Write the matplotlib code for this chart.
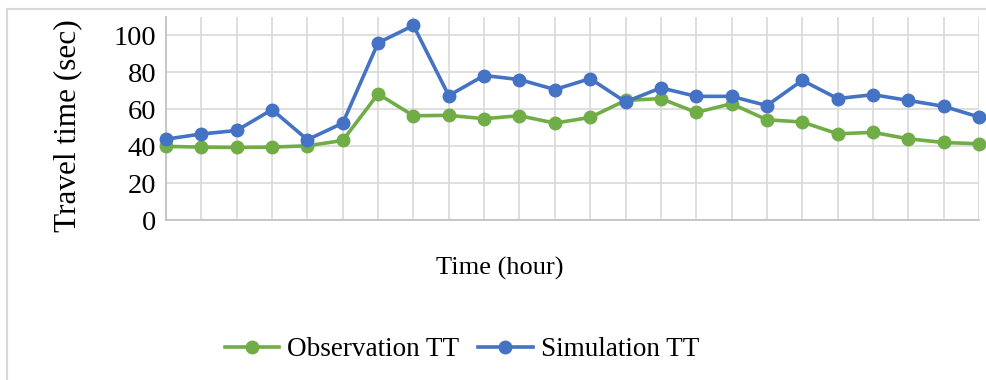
import numpy as np
import matplotlib.pyplot as plt
from matplotlib.lines import Line2D

plt.rcParams['font.family'] = ['Liberation Serif', 'DejaVu Serif']

# hourly travel times
hours = np.arange(1, 25)
observation_tt = [39.9, 39.5, 39.3, 39.5, 40.2, 43.1, 68.3, 56.5, 56.7, 54.9,
                  56.5, 52.5, 55.6, 64.8, 65.8, 58.3, 63.0, 54.3, 53.1, 46.7,
                  47.5, 44.0, 42.0, 41.3]
simulation_tt = [43.8, 46.6, 48.5, 59.8, 43.5, 52.5, 96.0, 105.4, 67.4, 78.3,
                 76.1, 70.7, 76.6, 64.0, 71.6, 67.0, 67.0, 62.0, 75.7, 65.8,
                 67.9, 64.8, 61.6, 55.8]
y_ticks = [0, 20, 40, 60, 80, 100]

green = '#70AD47'
blue = '#4472C4'
grid_c = '#D9D9D9'

fig = plt.figure(figsize=(9.86, 3.80), dpi=100)
ax = fig.add_axes([166 / 986, 1 - 220 / 380, (979 - 166) / 986, (220 - 17) / 380])

ax.plot(hours, observation_tt, color=green, lw=2.6, marker='o', ms=9,
        label='Observation TT', zorder=3, clip_on=False)
ax.plot(hours, simulation_tt, color=blue, lw=2.6, marker='o', ms=9,
        label='Simulation TT', zorder=3, clip_on=False)

ax.set_xlim(hours[0], hours[-1])
ax.set_ylim(0, 110)
ax.set_xticks(hours)
ax.set_xticklabels([])
ax.set_yticks(y_ticks)
ax.set_yticklabels([str(v) for v in y_ticks], fontsize=20.5)
ax.tick_params(axis='both', length=0, pad=7)
ax.grid(True, color=grid_c, lw=1.2)
ax.set_axisbelow(True)
for side in ['top', 'right']:
    ax.spines[side].set_visible(False)
for side in ['left', 'bottom']:
    ax.spines[side].set_color('#BFBFBF')
    ax.spines[side].set_linewidth(1.2)

# vertical grid line at the right edge
ax.axvline(hours[-1], color=grid_c, lw=1.2, zorder=0)

fig.text(68 / 986, 1 - 126 / 380, 'Travel time (sec)', rotation=90,
         ha='center', va='center', fontsize=22.5)
fig.text(500 / 986, 1 - 268 / 380, 'Time (hour)', ha='center', va='center',
         fontsize=19)

handles, labels = ax.get_legend_handles_labels()
fig.legend(handles, labels, loc='center', bbox_to_anchor=(462 / 986, 1 - 350 / 380),
           ncol=2, frameon=False, fontsize=19.5, handlelength=2.0,
           handletextpad=0.3, columnspacing=0.7)

# outer chart border
fig.add_artist(Line2D([7 / 986, 1], [1 - 9 / 380, 1 - 9 / 380],
                      transform=fig.transFigure, color=grid_c, lw=1.5))
fig.add_artist(Line2D([7 / 986, 7 / 986], [0, 1 - 9 / 380],
                      transform=fig.transFigure, color=grid_c, lw=1.5))

fig.savefig('out.png', dpi=100)
